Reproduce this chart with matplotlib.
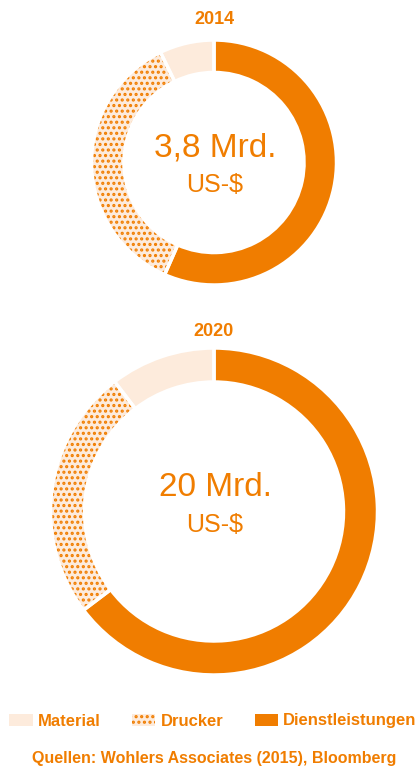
import matplotlib
matplotlib.use('Agg')
import matplotlib.pyplot as plt

# Daten
jahre = ['2014', '2020']
gesamt = ['3,8 Mrd.', '20 Mrd.']
einheit = 'US-$'
kategorien = ['Dienstleistungen', 'Drucker', 'Material']
anteile_2014 = [56.6, 36.2, 7.2]
anteile_2020 = [64.7, 24.9, 10.4]
quelle = 'Quellen: Wohlers Associates (2015), Bloomberg'

orange = '#F07D00'
hell = '#FDEBDC'
farben = [orange, hell, hell]
muster = [None, '...', None]

plt.rcParams['font.family'] = ['Liberation Sans', 'DejaVu Sans']
plt.rcParams['hatch.linewidth'] = 1.5

W, H = 419, 767
fig = plt.figure(figsize=(W / 100, H / 100), dpi=100)


def px(x, y):
    return x / W, 1 - y / H


def donut(cx, cy, r, breite, werte):
    ax = fig.add_axes([(cx - r) / W, 1 - (cy + r) / H, 2 * r / W, 2 * r / H])
    wedges, _ = ax.pie(werte, colors=farben, startangle=90, counterclock=False,
                       wedgeprops=dict(width=breite, linewidth=0))
    for w, m in zip(wedges, muster):
        if m:
            w.set_hatch(m)
            w.set_edgecolor(orange)
    # weisse Trennlinien
    ax.pie(werte, colors=['none'] * 3, startangle=90, counterclock=False,
           wedgeprops=dict(width=breite, linewidth=2.5, edgecolor='white', fill=False))
    ax.set_xlim(-1, 1)
    ax.set_ylim(-1, 1)
    ax.set_aspect('equal')
    ax.axis('off')
    return wedges


w1 = donut(214, 162.5, 122.5, 0.265, anteile_2014)
w2 = donut(214, 511.5, 163.5, 0.208, anteile_2020)

fig.text(*px(214, 20), jahre[0], color=orange, fontsize=13, fontweight='bold', ha='center', va='center')
fig.text(*px(214, 331), jahre[1], color=orange, fontsize=13, fontweight='bold', ha='center', va='center')

fig.text(*px(215, 148), gesamt[0], color=orange, fontsize=24, ha='center', va='center')
fig.text(*px(215, 185), einheit, color=orange, fontsize=18, ha='center', va='center')
fig.text(*px(215, 488), gesamt[1], color=orange, fontsize=24, ha='center', va='center')
fig.text(*px(215, 525), einheit, color=orange, fontsize=18, ha='center', va='center')

leg = fig.legend(w1[::-1], kategorien[::-1], loc='center', bbox_to_anchor=px(213, 721),
                 ncol=3, frameon=False, handlelength=1.4, handleheight=0.72,
                 handletextpad=0.3, columnspacing=1.9, borderpad=0,
                 prop=dict(size=12, weight='bold'))
for t in leg.get_texts():
    t.set_color(orange)

fig.text(*px(214, 758), quelle, color=orange, fontsize=11.5, fontweight='bold', ha='center', va='center')

fig.savefig('out.png', dpi=100, facecolor='white')
